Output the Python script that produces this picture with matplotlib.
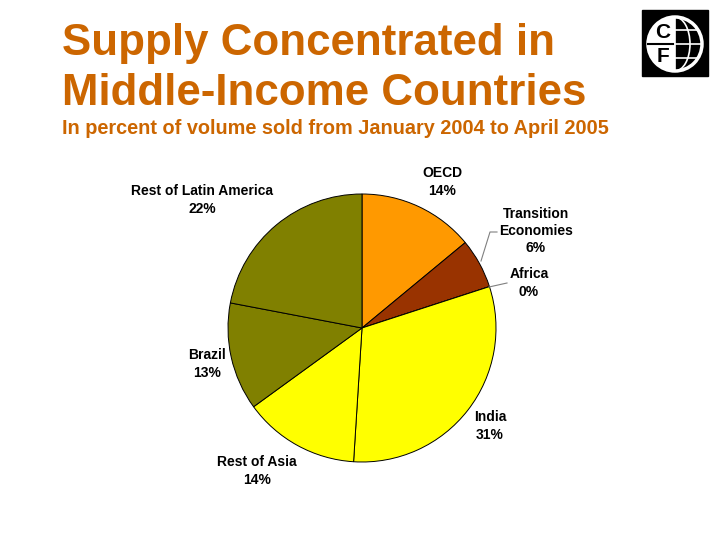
import matplotlib
matplotlib.use("Agg")
import matplotlib.pyplot as plt
import numpy as np
from matplotlib.patches import Rectangle, Circle, Wedge, Arc

plt.rcParams["font.family"] = ["Liberation Sans", "DejaVu Sans"]
plt.rcParams["font.weight"] = "bold"

# data
regions = ["OECD", "Transition\nEconomies", "Africa", "India",
           "Rest of Asia", "Brazil", "Rest of Latin America"]
shares = [14, 6, 0, 31, 14, 13, 22]
colors = ["#FF9900", "#993300", "#CC6600", "#FFFF00",
          "#FFFF00", "#808000", "#808000"]

title_lines = ["Supply Concentrated in", "Middle-Income Countries"]
subtitle = "In percent of volume sold from January 2004 to April 2005"

W, H = 720, 540
fig = plt.figure(figsize=(7.2, 5.4), dpi=100)
ax = fig.add_axes([0, 0, 1, 1])
ax.set_xlim(0, W)
ax.set_ylim(0, H)
ax.set_aspect("equal")
ax.axis("off")

# pie
cx, cy, r = 362, H - 328, 134
ax.pie(shares, colors=colors, startangle=90, counterclock=False,
       center=(cx, cy), radius=r, frame=True,
       wedgeprops=dict(edgecolor="black", linewidth=0.7))
ax.set_xlim(0, W)
ax.set_ylim(0, H)
ax.axis("off")

# labels (pixel positions, y from top)
label_pos = [(442, 182), (536, 231), (529, 283), (490, 426),
             (257, 471), (207, 364), (202, 200)]
for name, val, (lx, ly) in zip(regions, shares, label_pos):
    ax.text(lx, H - ly, f"{name}\n{val}%", ha="center", va="center",
            fontsize=10, fontweight="bold", linespacing=1.3)

# leader lines
ax.plot([481, 490, 497], [H - 261, H - 232, H - 232], color="#808080", lw=0.8)
ax.plot([489, 507], [H - 287, H - 283], color="#808080", lw=0.8)

# titles
tcol = "#CC6600"
fig.text(62 / W, 1 - 55 / H, title_lines[0], ha="left", va="baseline",
         fontsize=31.6, color=tcol, fontweight="bold")
fig.text(62 / W, 1 - 105 / H, title_lines[1], ha="left", va="baseline",
         fontsize=31.6, color=tcol, fontweight="bold")
fig.text(62 / W, 1 - 134 / H, subtitle, ha="left", va="baseline",
         fontsize=14.3, color=tcol, fontweight="bold")

# logo
lx0, ly0, ls = 642, 10, 66
ax.add_patch(Rectangle((lx0, H - ly0 - ls), ls, ls, color="black"))
gx, gy, gr = 675, H - 44, 27
ax.add_patch(Wedge((gx, gy), gr, 90, 270, facecolor="white", edgecolor="none"))
ax.add_patch(Circle((gx, gy), gr, facecolor="none", edgecolor="white", lw=2.5))
ax.plot([gx - gr, gx], [gy, gy], color="black", lw=1.5)
ax.plot([gx, gx], [gy - gr, gy + gr], color="white", lw=1.2)
ax.plot([gx, gx + gr], [gy, gy], color="white", lw=1.2)
for dy in (-14, 14):
    half = np.sqrt(gr ** 2 - dy ** 2)
    ax.plot([gx, gx + half], [gy + dy, gy + dy], color="white", lw=1.2)
ax.add_patch(Arc((gx, gy), 30, 2 * gr, theta1=-90, theta2=90,
                 color="white", lw=1.2))
ax.text(gx - 12, gy + 12, "C", ha="center", va="center", fontsize=15,
        fontweight="bold", color="black")
ax.text(gx - 12, gy - 12, "F", ha="center", va="center", fontsize=15,
        fontweight="bold", color="black")

fig.savefig("out.png", dpi=100)
